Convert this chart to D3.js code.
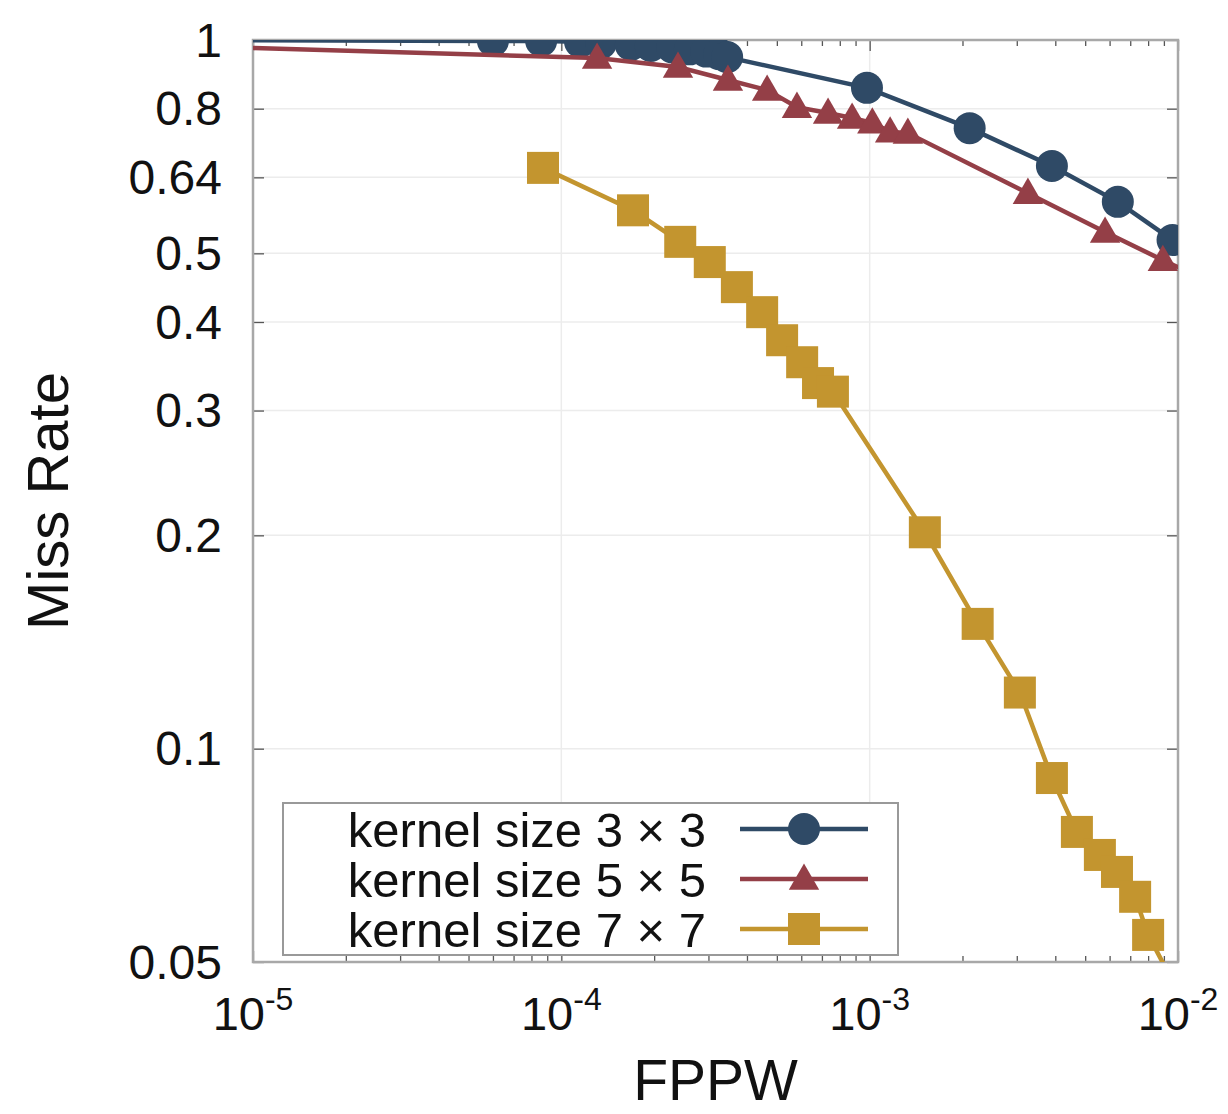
<!DOCTYPE html>
<html>
<head>
<meta charset="utf-8">
<script src="https://cdn.jsdelivr.net/npm/d3@7"></script>
<style>
  body { margin: 0; background: #fff; }
  svg text { font-family: "Liberation Sans", Arial, sans-serif; fill: #111; }
</style>
</head>
<body>
<script>
// values (FPPW, miss rate)
var fppw3 = [5e-6, 6.0e-5, 8.6e-5, 1.15e-4, 1.345e-4, 1.68e-4, 1.95e-4, 2.29e-4, 2.61e-4, 2.95e-4, 3.25e-4, 3.45e-4, 9.8e-4, 2.11e-3, 3.9e-3, 6.38e-3, 9.6e-3];
var miss3 = [1.0, 0.997, 0.997, 0.994, 0.990, 0.984, 0.981, 0.976, 0.970, 0.963, 0.955, 0.946, 0.856, 0.751, 0.664, 0.591, 0.522];

var fppw5 = [5e-6, 1.306e-4, 2.39e-4, 3.47e-4, 4.65e-4, 5.81e-4, 7.33e-4, 8.77e-4, 1.02e-3, 1.165e-3, 1.33e-3, 3.26e-3, 5.8e-3, 8.93e-3, 1.15e-2];
var miss5 = [0.983, 0.943, 0.916, 0.878, 0.850, 0.804, 0.789, 0.776, 0.764, 0.742, 0.739, 0.608, 0.536, 0.489, 0.465];

var fppw7 = [8.72e-5, 1.708e-4, 2.43e-4, 3.03e-4, 3.71e-4, 4.48e-4, 5.2e-4, 6.04e-4, 6.8e-4, 7.6e-4, 1.51e-3, 2.24e-3, 3.07e-3, 3.9e-3, 4.7e-3, 5.58e-3, 6.34e-3, 7.26e-3, 8.0e-3, 9.6e-3];
var miss7 = [0.660, 0.575, 0.519, 0.486, 0.448, 0.413, 0.377, 0.351, 0.328, 0.319, 0.202, 0.150, 0.120, 0.0909, 0.0763, 0.0708, 0.0670, 0.0618, 0.0546, 0.047];

var seriesNames = ["kernel size 3 \u00d7 3", "kernel size 5 \u00d7 5", "kernel size 7 \u00d7 7"];
var seriesColors = ["#2f4a66", "#943f47", "#c3952f"];
var seriesShapes = ["circle", "triangle", "square"];

var yTicks = [1, 0.8, 0.64, 0.5, 0.4, 0.3, 0.2, 0.1, 0.05];
var yTickLabels = ["1", "0.8", "0.64", "0.5", "0.4", "0.3", "0.2", "0.1", "0.05"];
var xMajor = [1e-5, 1e-4, 1e-3, 1e-2];
var xExp = ["-5", "-4", "-3", "-2"];

var W = 1228, H = 1114;
var pLeft = 253, pRight = 1178, pTop = 40, pBottom = 962;

var svg = d3.select("body").append("svg").attr("width", W).attr("height", H);

var x = d3.scaleLog().domain([1e-5, 1e-2]).range([pLeft, pRight]);
var y = d3.scaleLog().domain([0.05, 1]).range([pBottom, pTop]);

svg.append("defs").append("clipPath").attr("id", "plotclip")
  .append("rect").attr("x", pLeft).attr("y", pTop)
  .attr("width", pRight - pLeft).attr("height", pBottom - pTop);

// grid
var grid = svg.append("g").attr("class", "grid");
grid.selectAll(".gx").data(xMajor.slice(1, 3)).enter().append("line")
  .attr("x1", function(d){ return x(d); }).attr("x2", function(d){ return x(d); })
  .attr("y1", pTop).attr("y2", pBottom)
  .attr("stroke", "#ececec").attr("stroke-width", 1.5);
grid.selectAll(".gy").data(yTicks.slice(1, -1)).enter().append("line")
  .attr("y1", function(d){ return y(d); }).attr("y2", function(d){ return y(d); })
  .attr("x1", pLeft).attr("x2", pRight)
  .attr("stroke", "#ececec").attr("stroke-width", 1.5);

// axes (ticks pointing inward, gnuplot style)
var minor = x.ticks().filter(function(d){ return xMajor.indexOf(d) < 0; });

var xb = svg.append("g").attr("transform", "translate(0," + pBottom + ")")
  .call(d3.axisBottom(x).tickValues(minor).tickSize(-6).tickFormat(""));
var xb2 = svg.append("g").attr("transform", "translate(0," + pBottom + ")")
  .call(d3.axisBottom(x).tickValues(xMajor).tickSize(-11).tickFormat(""));
var xt = svg.append("g").attr("transform", "translate(0," + pTop + ")")
  .call(d3.axisTop(x).tickValues(minor).tickSize(-6).tickFormat(""));
var xt2 = svg.append("g").attr("transform", "translate(0," + pTop + ")")
  .call(d3.axisTop(x).tickValues(xMajor).tickSize(-11).tickFormat(""));
var yl = svg.append("g").attr("transform", "translate(" + pLeft + ",0)")
  .call(d3.axisLeft(y).tickValues(yTicks).tickSize(-11).tickFormat(""));
var yr = svg.append("g").attr("transform", "translate(" + pRight + ",0)")
  .call(d3.axisRight(y).tickValues(yTicks).tickSize(-11).tickFormat(""));

[xb, xb2, xt, xt2, yl, yr].forEach(function(g){
  g.select(".domain").remove();
  g.selectAll(".tick line").attr("stroke", "#555").attr("stroke-width", 1.3);
});

// frame
svg.append("rect").attr("x", pLeft).attr("y", pTop)
  .attr("width", pRight - pLeft).attr("height", pBottom - pTop)
  .attr("fill", "none").attr("stroke", "#a8a8a8").attr("stroke-width", 2.5);

// y tick labels
svg.selectAll(".ylab").data(yTicks).enter().append("text")
  .attr("x", 222).attr("y", function(d){ return y(d); })
  .attr("dy", "0.35em").attr("text-anchor", "end")
  .style("font-size", "48px")
  .text(function(d, i){ return yTickLabels[i]; });

// x tick labels 10^k
var xl = svg.selectAll(".xlab").data(xMajor).enter().append("text")
  .attr("x", function(d){ return x(d); }).attr("y", 1030)
  .attr("text-anchor", "middle")
  .style("font-size", "47px");
xl.append("tspan").text("10");
xl.append("tspan").attr("dy", -20).style("font-size", "32px")
  .text(function(d, i){ return xExp[i]; });

// axis titles
svg.append("text").attr("x", (pLeft + pRight) / 2).attr("y", 1100)
  .attr("text-anchor", "middle").style("font-size", "57px").text("FPPW");
svg.append("text")
  .attr("transform", "translate(68," + ((pTop + pBottom) / 2) + ") rotate(-90)")
  .attr("text-anchor", "middle").style("font-size", "58px").text("Miss Rate");

// markers
function drawMarker(g, shape, color, cx, cy) {
  if (shape == "circle") {
    g.append("circle").attr("cx", cx).attr("cy", cy).attr("r", 16).attr("fill", color);
  } else if (shape == "triangle") {
    g.append("path").attr("d", d3.symbol().type(d3.symbolTriangle).size(400)())
      .attr("transform", "translate(" + cx + "," + (cy + 2) + ")").attr("fill", color);
  } else {
    g.append("rect").attr("x", cx - 16).attr("y", cy - 16)
      .attr("width", 32).attr("height", 32).attr("fill", color);
  }
}

var allX = [fppw3, fppw5, fppw7];
var allY = [miss3, miss5, miss7];

var line = d3.line().x(function(d){ return x(d[0]); }).y(function(d){ return y(d[1]); });

var plot = svg.append("g").attr("clip-path", "url(#plotclip)");
allX.forEach(function(xs, s){
  var pts = xs.map(function(v, i){ return [v, allY[s][i]]; });
  var g = plot.append("g");
  g.append("path").datum(pts).attr("d", line)
    .attr("fill", "none").attr("stroke", seriesColors[s]).attr("stroke-width", 4.5);
  pts.forEach(function(p){
    if (p[0] >= 1e-5 && p[0] <= 1e-2 && p[1] >= 0.05 && p[1] <= 1) {
      drawMarker(g, seriesShapes[s], seriesColors[s], x(p[0]), y(p[1]));
    }
  });
});

// legend
var leg = svg.append("g");
leg.append("rect").attr("x", 283).attr("y", 803).attr("width", 615).attr("height", 152)
  .attr("fill", "#fff").attr("stroke", "#999").attr("stroke-width", 2);
seriesNames.forEach(function(name, i){
  var cy = 829 + i * 50;
  leg.append("text").attr("x", 706).attr("y", cy).attr("dy", "0.36em")
    .attr("text-anchor", "end").style("font-size", "49px").text(name);
  leg.append("line").attr("x1", 740).attr("x2", 868).attr("y1", cy).attr("y2", cy)
    .attr("stroke", seriesColors[i]).attr("stroke-width", 4.5);
  drawMarker(leg, seriesShapes[i], seriesColors[i], 804, cy);
});
</script>
</body>
</html>
